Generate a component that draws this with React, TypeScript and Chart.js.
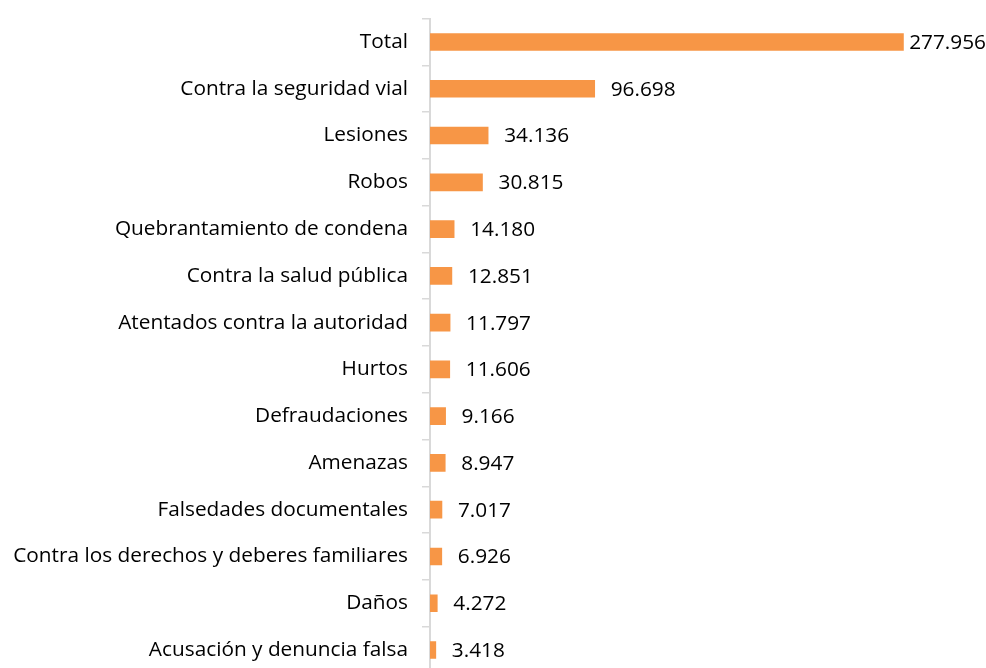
import React, { useEffect, useRef } from "react";
import { Chart, registerables } from "chart.js";

Chart.register(...registerables);

const categories: string[] = [
  "Total",
  "Contra la seguridad vial",
  "Lesiones",
  "Robos",
  "Quebrantamiento de condena",
  "Contra la salud pública",
  "Atentados contra la autoridad",
  "Hurtos",
  "Defraudaciones",
  "Amenazas",
  "Falsedades documentales",
  "Contra los derechos y deberes familiares",
  "Daños",
  "Acusación y denuncia falsa",
];

const values: number[] = [
  277956, 96698, 34136, 30815, 14180, 12851, 11797, 11606, 9166, 8947, 7017, 6926, 4272, 3418,
];

const FONT = "'Open Sans', sans-serif";
const FONT_SIZE = 20.8;

function fmt(n: number): string {
  return String(n).replace(/\B(?=(\d{3})+(?!\d))/g, ".");
}

const valueLabels = {
  id: "valueLabels",
  afterDatasetsDraw(chart: any) {
    const ctx = chart.ctx;
    const meta = chart.getDatasetMeta(0);
    ctx.save();
    ctx.font = `${FONT_SIZE}px ${FONT}`;
    ctx.fillStyle = "#000";
    ctx.textBaseline = "middle";
    ctx.textAlign = "left";
    meta.data.forEach((bar: any, i: number) => {
      const text = fmt(values[i]);
      const w = ctx.measureText(text).width;
      let x = bar.x + 16;
      if (x + w > chart.width) x = chart.width - w;
      ctx.fillText(text, x, bar.y + 1);
    });
    ctx.restore();
  },
};

export default function App() {
  const ref = useRef<HTMLCanvasElement | null>(null);

  useEffect(() => {
    document.body.style.margin = "0";
    if (!ref.current) return;
    const chart = new Chart(ref.current, {
      type: "bar",
      data: {
        labels: categories,
        datasets: [
          {
            data: values,
            backgroundColor: "#F79646",
            borderWidth: 0,
            barThickness: 17,
          },
        ],
      },
      options: {
        indexAxis: "y",
        animation: false,
        responsive: false,
        maintainAspectRatio: false,
        layout: { autoPadding: false, padding: { top: 18.6, bottom: 2.6, left: 0, right: 45 } },
        plugins: {
          legend: { display: false },
          tooltip: { enabled: false },
        },
        scales: {
          x: {
            display: false,
            min: 0,
            max: 300000,
          },
          y: {
            afterFit: (scale: any) => {
              scale.width = 430;
              scale.paddingTop = 0;
              scale.paddingBottom = 0;
            },
            border: { display: true, color: "#d9d9d9", width: 2 },
            grid: {
              display: true,
              drawOnChartArea: false,
              drawTicks: true,
              tickLength: 8,
              color: "#d9d9d9",
              lineWidth: 1.5,
              offset: true,
            },
            ticks: {
              color: "#000",
              padding: 14,
              font: { family: FONT, size: FONT_SIZE },
            },
          },
        },
      },
      plugins: [valueLabels],
    });
    return () => chart.destroy();
  }, []);

  return (
    <div style={{ position: "fixed", left: 0, top: 0, width: 986, height: 668, overflow: "hidden", background: "#fff" }}>
      <canvas ref={ref} width={986} height={676} style={{ display: "block", width: 986, height: 676 }} />
    </div>
  );
}
